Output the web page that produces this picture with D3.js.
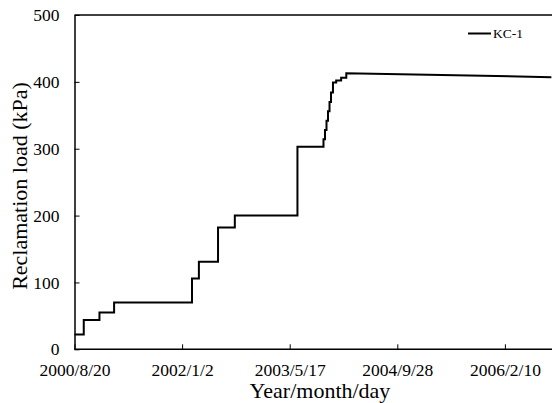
<!DOCTYPE html>
<html><head><meta charset="utf-8">
<script src="https://cdn.jsdelivr.net/npm/d3@7"></script>
<style>body{margin:0;background:#fff}svg{display:block}</style>
</head><body>
<script>
// Data: reclamation load steps (date at which load changes, new load kPa)
const stepDates = ["2000-08-20","2000-10-02","2000-12-14","2001-02-20","2002-02-17","2002-03-21","2002-06-18","2002-09-04","2003-06-22","2003-10-21","2003-10-28","2003-11-04","2003-11-11","2003-11-18","2003-11-25","2003-12-04","2003-12-19","2004-01-11","2004-02-04"];
const stepValues = [22,44,55,70,106,131,182,200,303,314,328,342,356,370,384,399,402,406,413];
const tailDates = ["2004-02-04","2006-09-14"];
const tailValues = [413,407];
const xTickLabels = ["2000/8/20","2002/1/2","2003/5/17","2004/9/28","2006/2/10"];
const yTicks = [0,100,200,300,400,500];
const seriesName = "KC-1";

const W=552,H=403;
const svg=d3.select("body").append("svg").attr("width",W).attr("height",H);
const parse=d3.timeParse("%Y-%m-%d");
const tickParse=d3.timeParse("%Y/%m/%d");
const t0=tickParse(xTickLabels[0]);
const tEnd=d3.timeDay.offset(t0,2500);
const x=d3.scaleTime().domain([t0,tEnd]).range([74.5,612.5]);
const y=d3.scaleLinear().domain([0,500]).range([349.3,15]);
const font="'Liberation Serif','Times New Roman',serif";

// frame
svg.append("line").attr("x1",x(t0)).attr("x2",x(tEnd)).attr("y1",y(500)).attr("y2",y(500)).attr("stroke","#000").attr("stroke-width",1.5);

const xTickDates=xTickLabels.map(tickParse);
const xa=svg.append("g").attr("transform",`translate(0,${y(0)})`)
  .call(d3.axisBottom(x).tickValues(xTickDates).tickFormat((d,i)=>xTickLabels[i]).tickSizeInner(-5).tickSizeOuter(0).tickPadding(14));
const ya=svg.append("g").attr("transform",`translate(${x(t0)},0)`)
  .call(d3.axisLeft(y).tickValues(yTicks).tickSizeInner(-5).tickSizeOuter(0).tickPadding(15));
[xa,ya].forEach(g=>{
  g.attr("font-family",font).attr("font-size",17.5);
  g.select(".domain").attr("stroke","#000").attr("stroke-width",1.5);
  g.selectAll(".tick line").attr("stroke","#000").attr("stroke-width",1);
  g.selectAll("text").attr("font-family",font).attr("font-size",17.5).attr("fill","#000");
});
xa.select(".domain").attr("d",`M${x(t0)},0H${x(tEnd)}`);

// data path
const pts=[];
for(let i=0;i<stepDates.length;i++){
  const d=parse(stepDates[i]);
  if(i>0) pts.push([d,stepValues[i-1]]);
  pts.push([d,stepValues[i]]);
}
tailDates.forEach((d,i)=>pts.push([parse(d),tailValues[i]]));
const line=d3.line().x(d=>x(d[0])).y(d=>y(d[1]));
svg.append("path").datum(pts).attr("d",line).attr("fill","none").attr("stroke","#000").attr("stroke-width",2);

// axis titles
svg.append("text").attr("x",320).attr("y",398).attr("text-anchor","middle")
  .attr("font-family",font).attr("font-size",22).text("Year/month/day");
svg.append("text").attr("transform","translate(26.5,186) rotate(-90)").attr("text-anchor","middle")
  .attr("font-family",font).attr("font-size",22).text("Reclamation load (kPa)");

// legend
svg.append("line").attr("x1",468).attr("x2",491).attr("y1",33.5).attr("y2",33.5).attr("stroke","#000").attr("stroke-width",2);
svg.append("text").attr("x",493).attr("y",38).attr("font-family",font).attr("font-size",13.5).text(seriesName);
</script>
</body></html>
